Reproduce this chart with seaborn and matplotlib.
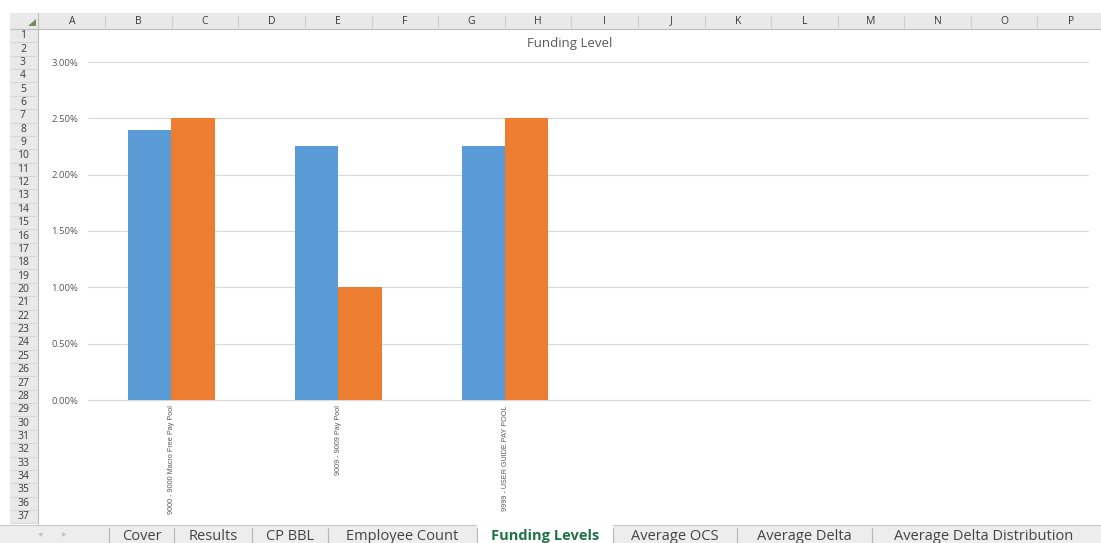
import matplotlib
matplotlib.use("Agg")
import matplotlib.pyplot as plt
from matplotlib.patches import Rectangle, Polygon
from matplotlib.lines import Line2D
from matplotlib.ticker import PercentFormatter
import seaborn as sns
import pandas as pd
import string

# ---- chart data ----
pools = ["9000 - 9000 Macro Free Pay Pool", "9009 - 9009 Pay Pool", "9999 - USER GUIDE PAY POOL"]
funding = [0.024, 0.0225, 0.0225]
target = [0.025, 0.010, 0.025]
series_names = ["Funding", "Target"]
sheet_tabs = ["Cover", "Results", "CP BBL", "Employee Count", "Funding Levels",
              "Average OCS", "Average Delta", "Average Delta Distribution"]
active_tab = "Funding Levels"

BLUE = "#5B9BD5"
ORANGE = "#ED7D31"
GREY_TXT = "#595959"

sns.set_style("white")
plt.rcParams["font.family"] = ["Open Sans", "DejaVu Sans"]

W, H = 1101, 543
fig = plt.figure(figsize=(W / 100, H / 100), dpi=100)


def fx(x):
    return x / W


def fy(y):
    return 1 - y / H


def rect(x0, y0, x1, y1, **kw):
    fig.patches.append(Rectangle((fx(x0), fy(y1)), fx(x1) - fx(x0), fy(y0) - fy(y1),
                                 transform=fig.transFigure, **kw))


def hline(x0, x1, y, **kw):
    fig.lines.append(Line2D([fx(x0), fx(x1)], [fy(y), fy(y)], transform=fig.transFigure, **kw))


def vline(x, y0, y1, **kw):
    fig.lines.append(Line2D([fx(x), fx(x)], [fy(y0), fy(y1)], transform=fig.transFigure, **kw))


# ---- spreadsheet frame: column header band ----
hdr_top, hdr_bot = 13, 29
rect(10, hdr_top, W, hdr_bot, facecolor="#E9E9E9", edgecolor="none", zorder=0)
hline(10, W, hdr_bot, color="#BDBDBD", lw=0.8)
col_left = 38.5
col_w = 66.6
for i, letter in enumerate(string.ascii_uppercase[:16]):
    x0 = col_left + i * col_w
    fig.text(fx(x0 + col_w / 2), fy((hdr_top + hdr_bot) / 2), letter, ha="center", va="center",
             fontsize=7.5, color="#3A3A3A")
    vline(x0 + col_w, hdr_top + 3, hdr_bot - 1, color="#CFCFCF", lw=0.8)

# corner marker
fig.patches.append(Polygon([[fx(28), fy(26)], [fx(36), fy(26)], [fx(36), fy(19)]],
                           closed=True, transform=fig.transFigure,
                           facecolor="#6F8F63", edgecolor="none"))

# ---- row header band ----
row_top = 29
row_h = 13.36
n_rows = 37
rect(10, row_top, 38, 524, facecolor="#E9E9E9", edgecolor="none", zorder=0)
vline(38, hdr_top, 524, color="#BDBDBD", lw=0.8)
for r in range(1, n_rows + 1):
    yc = row_top + (r - 0.5) * row_h
    fig.text(fx(23), fy(yc), str(r), ha="center", va="center", fontsize=7.5, color="#3A3A3A")
    hline(10, 38, row_top + r * row_h, color="#D2D2D2", lw=0.6)

# ---- chart ----
ax = fig.add_axes([fx(88), fy(400), fx(1089) - fx(88), fy(62) - fy(400)])
df = pd.DataFrame({
    "pool": pools * 2,
    "series": [series_names[0]] * len(pools) + [series_names[1]] * len(pools),
    "value": funding + target,
})
sns.barplot(data=df, x="pool", y="value", hue="series", palette=[BLUE, ORANGE],
            width=0.52, gap=0, saturation=1, legend=False, linewidth=0, ax=ax, zorder=3)
ax.set_xlim(-0.5, 5.5)
ax.set_ylim(0, 0.03)
ax.set_yticks([0, 0.005, 0.01, 0.015, 0.02, 0.025, 0.03])
ax.yaxis.set_major_formatter(PercentFormatter(1, decimals=2))
ax.yaxis.grid(True, color="#D9D9D9", lw=0.8, zorder=0)
ax.set_axisbelow(True)
for side in ["top", "right", "left"]:
    ax.spines[side].set_visible(False)
ax.spines["bottom"].set_color("#D9D9D9")
ax.spines["bottom"].set_linewidth(0.8)
ax.tick_params(axis="y", length=0, pad=7, labelsize=6.8, labelcolor=GREY_TXT)
ax.tick_params(axis="x", length=0, pad=4, labelsize=5.2, labelcolor=GREY_TXT)
for lbl in ax.get_yticklabels():
    lbl.set_fontfamily("Open Sans")
ax.set_xticks(range(len(pools)))
ax.set_xticklabels(pools, rotation=90, va="top", ha="center", fontfamily="Liberation Sans")
ax.set_xlabel("")
ax.set_ylabel("")
ax.patch.set_alpha(0)

fig.text(fx(570), fy(44), "Funding Level", ha="center", va="center", fontsize=9.5, color=GREY_TXT)

# ---- sheet tab bar ----
tab_top = 525
rect(0, tab_top, W, H, facecolor="#EDEDED", edgecolor="none", zorder=5)
hline(0, W, tab_top, color="#C8C8C8", lw=0.8, zorder=6)
fig.text(fx(40), fy(535), "◀", ha="center", va="center", fontsize=4, color="#C0C0C0",
         family="DejaVu Sans", zorder=7)
fig.text(fx(64), fy(535), "▶", ha="center", va="center", fontsize=4, color="#C0C0C0",
         family="DejaVu Sans", zorder=7)
tab_edges = [109, 174, 252, 328, 477, 613, 737, 872, 1096]
for i, name in enumerate(sheet_tabs):
    x0, x1 = tab_edges[i], tab_edges[i + 1]
    is_active = name == active_tab
    if is_active:
        rect(x0, tab_top, x1, H, facecolor="white", edgecolor="none", zorder=6)
    vline(x0, tab_top + 3, H, color="#B5B5B5", lw=0.8, zorder=7)
    fig.text(fx((x0 + x1) / 2), fy(536), name, ha="center", va="center", fontsize=10.5,
             color="#217346" if is_active else "#444444",
             fontweight="bold" if is_active else "normal", zorder=8)

fig.savefig("out.png", dpi=100)
